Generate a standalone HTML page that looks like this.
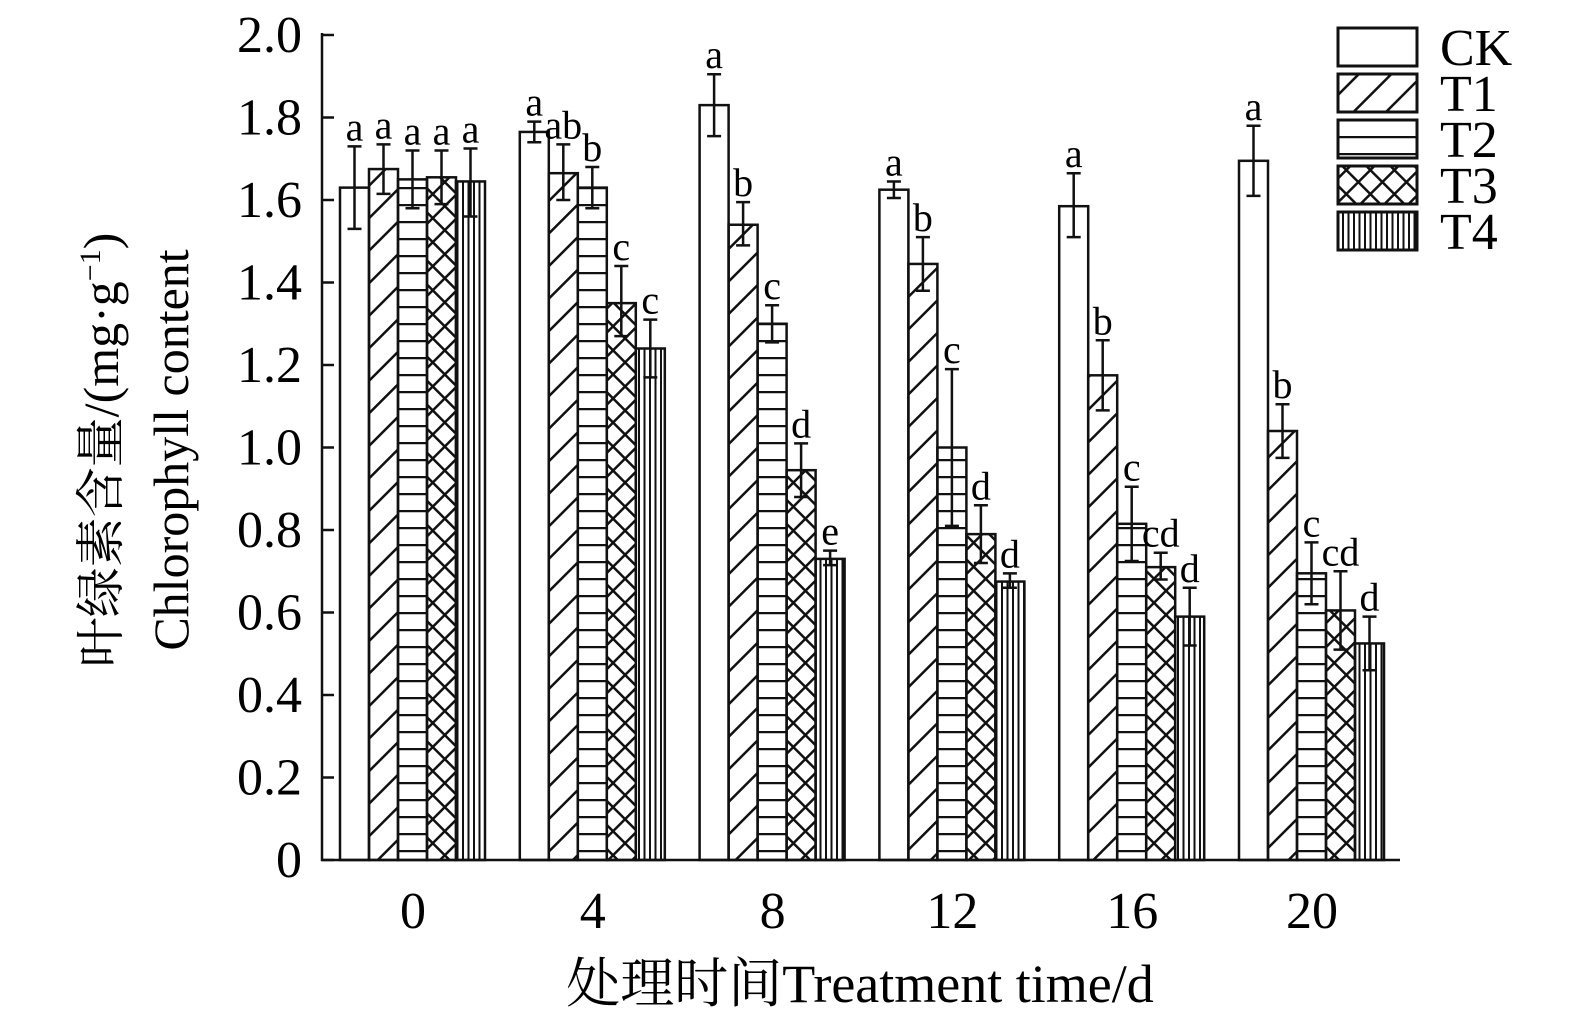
<!DOCTYPE html>
<html><head><meta charset="utf-8"><style>body{margin:0;background:#fff}svg{display:block}</style></head>
<body>
<svg id="s" width="1575" height="1028" xmlns="http://www.w3.org/2000/svg" font-family="Liberation Serif, Noto Serif CJK SC, serif">
<defs>
<pattern id="p1" width="23" height="23" patternUnits="userSpaceOnUse" patternTransform="rotate(45)"><line x1="0" y1="0" x2="0" y2="23" stroke="#111" stroke-width="5"/></pattern>
<pattern id="p2" width="20" height="17" patternUnits="userSpaceOnUse"><line x1="0" y1="1" x2="20" y2="1" stroke="#111" stroke-width="2.5"/></pattern>
<pattern id="p3" width="17" height="17" patternUnits="userSpaceOnUse" patternTransform="rotate(45)"><line x1="0" y1="0" x2="0" y2="17" stroke="#111" stroke-width="5"/><line x1="0" y1="0" x2="17" y2="0" stroke="#111" stroke-width="5"/></pattern>
<pattern id="p4" width="5.5" height="20" patternUnits="userSpaceOnUse"><line x1="1" y1="0" x2="1" y2="20" stroke="#111" stroke-width="2"/></pattern>
</defs>
<g id="g"></g>
</svg>
<script>
const g=document.getElementById('g');let h='';
const Y=v=>860-412.5*v;
const fills=['#fff','url(#p1)','url(#p2)','url(#p3)','url(#p4)'];
const D=[
[[1.63,1.53,1.73,'a'],[1.675,1.615,1.735,'a'],[1.65,1.58,1.72,'a'],[1.655,1.59,1.72,'a'],[1.645,1.56,1.725,'a']],
[[1.765,1.74,1.79,'a'],[1.665,1.6,1.735,'ab'],[1.63,1.58,1.68,'b'],[1.35,1.27,1.44,'c'],[1.24,1.17,1.31,'c']],
[[1.83,1.755,1.905,'a'],[1.54,1.49,1.595,'b'],[1.30,1.255,1.345,'c'],[0.945,0.88,1.01,'d'],[0.73,0.715,0.75,'e']],
[[1.625,1.605,1.645,'a'],[1.445,1.38,1.51,'b'],[1.0,0.81,1.19,'c'],[0.79,0.72,0.86,'d'],[0.675,0.66,0.695,'d']],
[[1.585,1.51,1.665,'a'],[1.175,1.09,1.26,'b'],[0.815,0.725,0.905,'c'],[0.71,0.68,0.745,'cd'],[0.59,0.52,0.66,'d']],
[[1.695,1.61,1.78,'a'],[1.04,0.975,1.105,'b'],[0.695,0.62,0.77,'c'],[0.605,0.51,0.70,'cd'],[0.525,0.46,0.59,'d']]];
const labs=['0','4','8','12','16','20'];
D.forEach((grp,i)=>{const x0=340+i*179.8;
 grp.forEach((b,j)=>{const x=x0+j*29,w=29,cx=x+w/2;
  h+=`<rect x="${x}" y="${Y(b[0])}" width="${w}" height="${860-Y(b[0])}" fill="${fills[j]}" stroke="#111" stroke-width="2.5"/>`;
  h+=`<path d="M${cx} ${Y(b[1])}V${Y(b[2])}M${cx-7} ${Y(b[1])}H${cx+7}M${cx-7} ${Y(b[2])}H${cx+7}" stroke="#111" stroke-width="2.5" fill="none"/>`;
  h+=`<text x="${cx}" y="${Y(b[2])-6}" font-size="40" text-anchor="middle">${b[3]}</text>`;});
 h+=`<text x="${x0+73}" y="928" font-size="52" text-anchor="middle">${labs[i]}</text>`;
});
for(let k=0;k<=10;k++){const v=k*0.2,y=Y(v);
 h+=`<line x1="322" y1="${y}" x2="334" y2="${y}" stroke="#111" stroke-width="2.5"/>`;
 h+=`<text x="302" y="${y+17}" font-size="52" text-anchor="end">${k==0?'0':v.toFixed(1)}</text>`;}
h+=`<path d="M322 33V860H1400" stroke="#111" stroke-width="2.5" fill="none"/>`;
['CK','T1','T2','T3','T4'].forEach((n,j)=>{const y=28+j*46;
 h+=`<rect x="1338" y="${y}" width="79" height="38" fill="${fills[j]}" stroke="#111" stroke-width="3"/>`;
 h+=`<text x="1440" y="${y+37}" font-size="52">${n}</text>`;});
h+=`<text x="860" y="1002" font-size="54" text-anchor="middle">处理时间Treatment time/d</text>`;
h+=`<text transform="translate(118,450) rotate(-90)" font-size="50" text-anchor="middle">叶绿素含量/(mg·g<tspan font-size="30" dy="-18">−1</tspan><tspan dy="18">)</tspan></text>`;
h+=`<text transform="translate(188,450) rotate(-90)" font-size="50" text-anchor="middle">Chlorophyll content</text>`;
g.innerHTML=h;
</script>
</body></html>
